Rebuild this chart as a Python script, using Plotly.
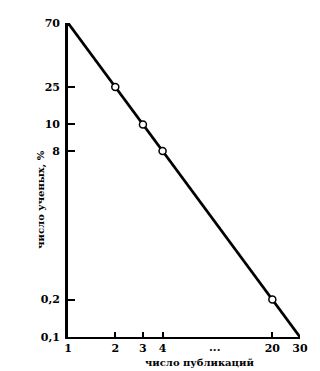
import plotly.graph_objects as go

# Data (schematic Lotka-type chart)
publications = [1, 2, 3, 4, 20, 30]            # число публикаций
scientists_pct = ["70", "25", "10", "8", "0,2", "0,1"]  # число учёных, %
marker_pubs = [2, 3, 4, 20]
x_tick_labels = ["1", "2", "3", "4", "20", "30"]

font = dict(family="DejaVu Serif", size=11, color="black", weight="bold")
title_font = dict(family="DejaVu Serif", size=10, color="black", weight="bold")

fig = go.Figure()
# straight schematic line: each publication count maps to its percentage tick
fig.add_trace(go.Scatter(
    x=publications, y=publications, mode="lines",
    line=dict(color="black", width=2.8), hoverinfo="skip", showlegend=False))
fig.add_trace(go.Scatter(
    x=marker_pubs, y=marker_pubs, mode="markers",
    marker=dict(symbol="circle", size=7, color="white",
                line=dict(color="black", width=1.5)),
    showlegend=False))

fig.update_layout(
    width=320, height=371,
    margin=dict(l=68, r=14, t=23, b=34),
    paper_bgcolor="white", plot_bgcolor="white",
    font=font,
    xaxis=dict(type="log", range=[0, 1.4771], tickvals=publications,
               ticktext=x_tick_labels, ticks="inside", ticklen=5,
               tickwidth=1.5, tickcolor="black", showline=True,
               linewidth=2.2, linecolor="black", showgrid=False,
               zeroline=False, tickfont=font),
    yaxis=dict(type="log", range=[1.4771, 0], tickvals=publications,
               ticktext=scientists_pct, ticks="inside", ticklen=7,
               tickwidth=1.5, tickcolor="black", showline=True,
               linewidth=2.6, linecolor="black", showgrid=False,
               zeroline=False, tickfont=font, ticklabelstandoff=3),
    annotations=[
        dict(text="число публикаций", xref="paper", yref="paper",
             x=0.567, y=-0.08, showarrow=False, font=title_font,
             xanchor="center", yanchor="middle"),
        dict(text="число ученых, %", xref="paper", yref="paper",
             x=-0.118, y=0.436, showarrow=False, font=title_font,
             textangle=-90, xanchor="center", yanchor="middle"),
        dict(text="...", xref="paper", yref="paper",
             x=0.635, y=-0.035, showarrow=False, font=font,
             xanchor="center", yanchor="middle"),
    ],
)

fig.write_html("out.html")
